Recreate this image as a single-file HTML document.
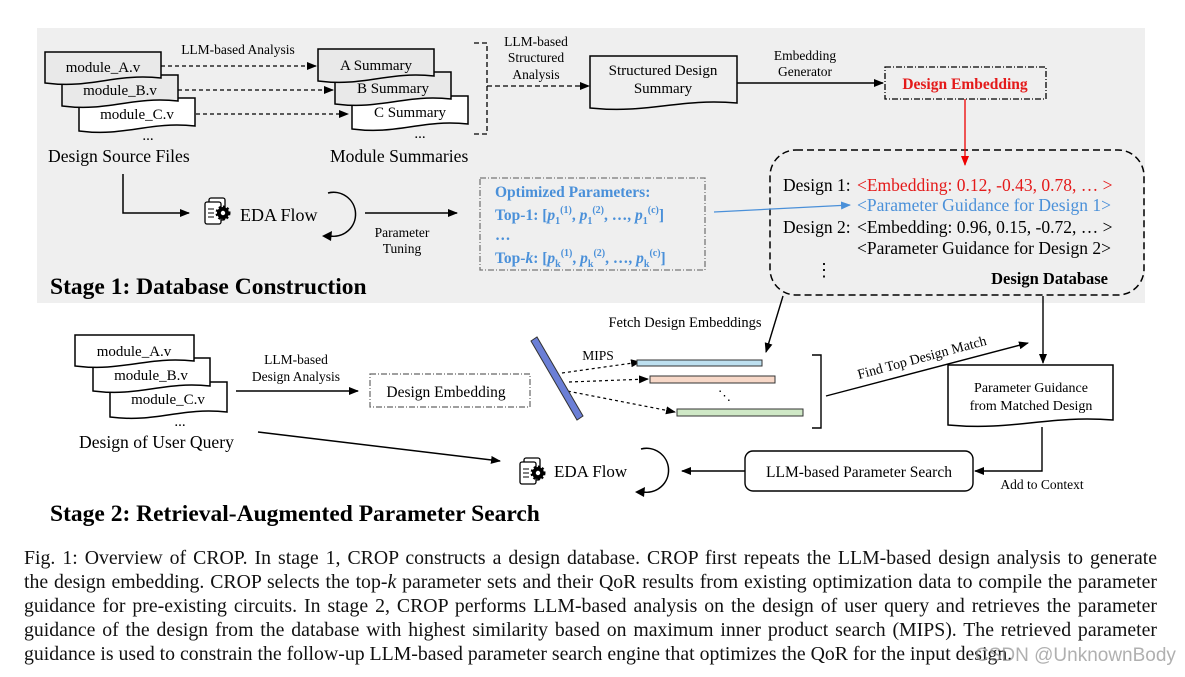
<!DOCTYPE html>
<html><head><meta charset="utf-8"><style>
body{margin:0;background:#fff;width:1185px;height:677px;overflow:hidden;position:relative;font-family:"Liberation Serif",serif}
svg{position:absolute;left:0;top:0}
.cap{position:absolute;left:24px;width:1133px;font-size:19.8px;text-align:justify;text-align-last:justify;white-space:nowrap;color:#111;line-height:24px}
.wm{position:absolute;left:975px;top:645px;font-family:"Liberation Sans",sans-serif;font-size:19px;color:rgba(150,150,150,.75)}
</style></head><body>
<svg id="s" width="1185" height="677" viewBox="0 0 1185 677" font-family="Liberation Serif, serif">
<defs>
<marker id="ak" markerWidth="10" markerHeight="8" refX="9" refY="4" orient="auto" markerUnits="userSpaceOnUse"><path d="M0,0 L10,4 L0,8z" fill="#000"/></marker>
<marker id="ar" markerWidth="10" markerHeight="8" refX="9" refY="4" orient="auto" markerUnits="userSpaceOnUse"><path d="M0,0 L10,4 L0,8z" fill="#e00"/></marker>
<marker id="ab" markerWidth="10" markerHeight="8" refX="9" refY="4" orient="auto" markerUnits="userSpaceOnUse"><path d="M0,0 L10,4 L0,8z" fill="#4a90d9"/></marker>
</defs>
<rect x="37" y="28" width="1108" height="275" fill="#efefef"/>
<g id="docs" stroke="#000" stroke-width="1.5"></g>
<g font-size="15" fill="#000">
<text x="103" y="72" text-anchor="middle">module_A.v</text>
<text x="120" y="95" text-anchor="middle">module_B.v</text>
<text x="137" y="119" text-anchor="middle">module_C.v</text>
<text x="148" y="140" text-anchor="middle">...</text>
<text x="48" y="162" font-size="17.6">Design Source Files</text>
<text x="376" y="70" text-anchor="middle">A Summary</text>
<text x="393" y="93" text-anchor="middle">B Summary</text>
<text x="410" y="117" text-anchor="middle">C Summary</text>
<text x="420" y="138" text-anchor="middle">...</text>
<text x="330" y="162" font-size="17.6">Module Summaries</text>
<text x="663" y="75" text-anchor="middle">Structured Design</text>
<text x="663" y="93" text-anchor="middle">Summary</text>
</g>
<g font-size="13.5" text-anchor="middle">
<text x="238" y="54">LLM-based Analysis</text>
<text x="536" y="46">LLM-based</text><text x="536" y="62">Structured</text><text x="536" y="79">Analysis</text>
<text x="805" y="60">Embedding</text><text x="805" y="76">Generator</text>
<text x="402" y="237">Parameter</text><text x="402" y="253">Tuning</text>
</g>
<g stroke="#000" stroke-width="1.3" fill="none">
<line x1="161" y1="66" x2="316" y2="66" stroke-dasharray="4,3" marker-end="url(#ak)"/>
<line x1="178" y1="90" x2="333" y2="90" stroke-dasharray="4,3" marker-end="url(#ak)"/>
<line x1="196" y1="114" x2="348" y2="114" stroke-dasharray="4,3" marker-end="url(#ak)"/>
<path d="M474,43 H487 V134 H474" stroke-dasharray="5,3"/>
<line x1="487" y1="86" x2="589" y2="86" stroke-dasharray="5,3" marker-end="url(#ak)"/>
<line x1="737" y1="83" x2="883" y2="83" stroke-width="1.6" marker-end="url(#ak)"/>
<rect x="885" y="67" width="161" height="32" stroke-dasharray="6,2,1,2"/>
<path d="M123,174 V213 H189" stroke-width="1.5" marker-end="url(#ak)"/>
<line x1="365" y1="213" x2="457" y2="213" stroke-width="1.5" marker-end="url(#ak)"/>
<path d="M328,193 A22,22 0 1 1 330,236" stroke-width="1.5"/>
<rect x="770" y="150" width="374" height="145" rx="26" stroke-dasharray="7,4" stroke-width="1.5"/>
<rect x="480" y="178" width="225" height="92" stroke="#777" stroke-dasharray="6,2,1,2"/>
</g>
<path d="M322,236 L332,231 L331,241z" fill="#000"/>
<line x1="965" y1="99" x2="965" y2="165" stroke="#e00" stroke-width="1.3" marker-end="url(#ar)"/>
<line x1="714" y1="212" x2="850" y2="205" stroke="#4a90d9" stroke-width="1.3" marker-end="url(#ab)"/>
<text x="965" y="89" text-anchor="middle" fill="#e41a1a" font-weight="bold" font-size="15.5">Design Embedding</text>
<g id="icon1"></g>
<text x="240" y="221" font-size="18">EDA Flow</text>
<g fill="#4a90d9" font-weight="bold" font-size="15.5">
<text x="495" y="197">Optimized Parameters:</text>
<text x="495" y="220">Top-1: [<tspan font-style="italic">p</tspan><tspan font-size="10" dy="4">1</tspan><tspan font-size="10" dy="-11">(1)</tspan><tspan dy="7">, </tspan><tspan font-style="italic">p</tspan><tspan font-size="10" dy="4">1</tspan><tspan font-size="10" dy="-11">(2)</tspan><tspan dy="7">, …, </tspan><tspan font-style="italic">p</tspan><tspan font-size="10" dy="4">1</tspan><tspan font-size="10" dy="-11">(c)</tspan><tspan dy="7">]</tspan></text>
<text x="495" y="240">…</text>
<text x="495" y="263">Top-<tspan font-style="italic">k</tspan>: [<tspan font-style="italic">p</tspan><tspan font-size="10" dy="4">k</tspan><tspan font-size="10" dy="-11">(1)</tspan><tspan dy="7">, </tspan><tspan font-style="italic">p</tspan><tspan font-size="10" dy="4">k</tspan><tspan font-size="10" dy="-11">(2)</tspan><tspan dy="7">, …, </tspan><tspan font-style="italic">p</tspan><tspan font-size="10" dy="4">k</tspan><tspan font-size="10" dy="-11">(c)</tspan><tspan dy="7">]</tspan></text>
</g>
<g font-size="17.5">
<text x="783" y="191">Design 1:</text>
<text x="857" y="191" fill="#e41a1a">&lt;Embedding: 0.12, -0.43, 0.78, … &gt;</text>
<text x="857" y="211" fill="#4a90d9">&lt;Parameter Guidance for Design 1&gt;</text>
<text x="783" y="233">Design 2:</text>
<text x="857" y="233">&lt;Embedding: 0.96, 0.15, -0.72, … &gt;</text>
<text x="857" y="254">&lt;Parameter Guidance for Design 2&gt;</text>
<text x="815" y="276" font-size="18">⋮</text>
<text x="1108" y="284" font-weight="bold" text-anchor="end" font-size="16.5">Design Database</text>
</g>
<text x="50" y="294" font-size="23.5" font-weight="bold">Stage 1: Database Construction</text>

<!-- stage 2 -->
<g font-size="15">
<text x="134" y="356" text-anchor="middle">module_A.v</text>
<text x="151" y="380" text-anchor="middle">module_B.v</text>
<text x="168" y="404" text-anchor="middle">module_C.v</text>
<text x="180" y="426" text-anchor="middle">...</text>
<text x="79" y="448" font-size="17.6">Design of User Query</text>
<text x="446" y="397" text-anchor="middle" font-size="15.5">Design Embedding</text>
<text x="1031" y="392" text-anchor="middle" font-size="14">Parameter Guidance</text>
<text x="1031" y="410" text-anchor="middle" font-size="14">from Matched Design</text>
<text x="859" y="477" text-anchor="middle" font-size="15.5">LLM-based Parameter Search</text>
<text x="554" y="477" font-size="17">EDA Flow</text>
</g>
<g font-size="13.5" text-anchor="middle">
<text x="296" y="364">LLM-based</text><text x="296" y="381">Design Analysis</text>
<text x="685" y="327" font-size="14.5">Fetch Design Embeddings</text>
<text x="598" y="360">MIPS</text>
<text x="1042" y="489">Add to Context</text>
<text x="922" y="362" transform="rotate(-15 922 358)" font-size="14">Find Top Design Match</text>
</g>
<g stroke="#000" stroke-width="1.4" fill="none">
<line x1="236" y1="391" x2="358" y2="391" marker-end="url(#ak)"/>
<rect x="370" y="374" width="160" height="33" stroke="#666" stroke-dasharray="6,2,1,2" stroke-width="1.2"/>
<line x1="562" y1="373" x2="640" y2="362" stroke-dasharray="3,3" stroke-width="1.2" marker-end="url(#ak)"/>
<line x1="569" y1="382" x2="648" y2="379" stroke-dasharray="3,3" stroke-width="1.2" marker-end="url(#ak)"/>
<line x1="562" y1="390" x2="675" y2="412" stroke-dasharray="3,3" stroke-width="1.2" marker-end="url(#ak)"/>
<path d="M812,355 H821 V428 H812"/>
<line x1="826" y1="396" x2="1028" y2="343" marker-end="url(#ak)"/>
<line x1="783" y1="296" x2="766" y2="352" marker-end="url(#ak)"/>
<line x1="1043" y1="296" x2="1043" y2="363" marker-end="url(#ak)"/>
<path d="M1042,427 V471 H975" marker-end="url(#ak)"/>
<rect x="745" y="451" width="228" height="40" rx="8"/>
<line x1="745" y1="471" x2="682" y2="471" marker-end="url(#ak)"/>
<line x1="258" y1="432" x2="500" y2="461" marker-end="url(#ak)"/>
<path d="M641,449 A22,22 0 1 1 643,492" stroke-width="1.5"/>
</g>
<path d="M635,492 L645,487 L644,497z" fill="#000"/>
<polygon points="531,341 537,337 583,416 577,420" fill="#6b7fd6" stroke="#333" stroke-width="1"/>
<rect x="637" y="360" width="125" height="6" fill="#bde0f0" stroke="#333"/>
<rect x="650" y="376" width="125" height="7" fill="#f7d8c8" stroke="#333"/>
<rect x="677" y="409" width="126" height="7" fill="#cfe8c6" stroke="#333"/>
<text x="718" y="400" font-size="13">⋱</text>
<g id="icon2"></g>
<text x="50" y="521" font-size="23.5" font-weight="bold">Stage 2: Retrieval-Augmented Parameter Search</text>
</svg>
<div class="cap" style="top:546px">Fig. 1: Overview of CROP. In stage 1, CROP constructs a design database. CROP first repeats the LLM-based design analysis to generate</div>
<div class="cap" style="top:570px">the design embedding. CROP selects the top-<i>k</i> parameter sets and their QoR results from existing optimization data to compile the parameter</div>
<div class="cap" style="top:594px">guidance for pre-existing circuits. In stage 2, CROP performs LLM-based analysis on the design of user query and retrieves the parameter</div>
<div class="cap" style="top:618px">guidance of the design from the database with highest similarity based on maximum inner product search (MIPS). The retrieved parameter</div>
<div class="cap" style="top:642px;text-align-last:left">guidance is used to constrain the follow-up LLM-based parameter search engine that optimizes the QoR for the input design.</div>
<div class="wm">CSDN @UnknownBody</div>
<script>
var NS="http://www.w3.org/2000/svg";
function doc(g,x,y,w,h,fill){var p=document.createElementNS(NS,"path");
p.setAttribute("d","M"+x+","+y+" H"+(x+w)+" V"+(y+h-7)+" C"+(x+0.6*w)+","+(y+h-12)+" "+(x+0.4*w)+","+(y+h+4)+" "+x+","+(y+h-2)+" Z");
p.setAttribute("fill",fill);g.appendChild(p);}
var g=document.getElementById("docs");
doc(g,79,98,116,35,"#fff");doc(g,62,75,116,33,"#e9e9e9");doc(g,45,52,116,33,"#e9e9e9");
doc(g,352,96,116,35,"#fff");doc(g,335,72,116,34,"#e9e9e9");doc(g,318,49,116,34,"#e9e9e9");
doc(g,590,56,147,54,"#efefef");
doc(g,110,382,117,37,"#fff");doc(g,93,358,117,35,"#fff");doc(g,75,335,119,33,"#fff");
doc(g,948,365,165,62,"#fff");
function icon(id,x,y){var e=document.getElementById(id);
e.innerHTML='<rect x="'+(x+4)+'" y="'+y+'" width="16" height="22" rx="2" fill="#fff" stroke="#000" stroke-width="1.3"/><rect x="'+x+'" y="'+(y+4)+'" width="16" height="22" rx="2" fill="#fff" stroke="#000" stroke-width="1.3"/><line x1="'+(x+3)+'" y1="'+(y+11)+'" x2="'+(x+9)+'" y2="'+(y+11)+'" stroke="#000"/><line x1="'+(x+3)+'" y1="'+(y+15)+'" x2="'+(x+9)+'" y2="'+(y+15)+'" stroke="#000"/><line x1="'+(x+3)+'" y1="'+(y+19)+'" x2="'+(x+9)+'" y2="'+(y+19)+'" stroke="#000"/><circle cx="'+(x+18)+'" cy="'+(y+15)+'" r="6" fill="#000"/><circle cx="'+(x+18)+'" cy="'+(y+15)+'" r="6" fill="none" stroke="#000" stroke-width="3" stroke-dasharray="2,2"/><circle cx="'+(x+18)+'" cy="'+(y+15)+'" r="2.2" fill="#fff"/>';}
icon("icon1",205,198);icon("icon2",520,458);
</script>
</body></html>
